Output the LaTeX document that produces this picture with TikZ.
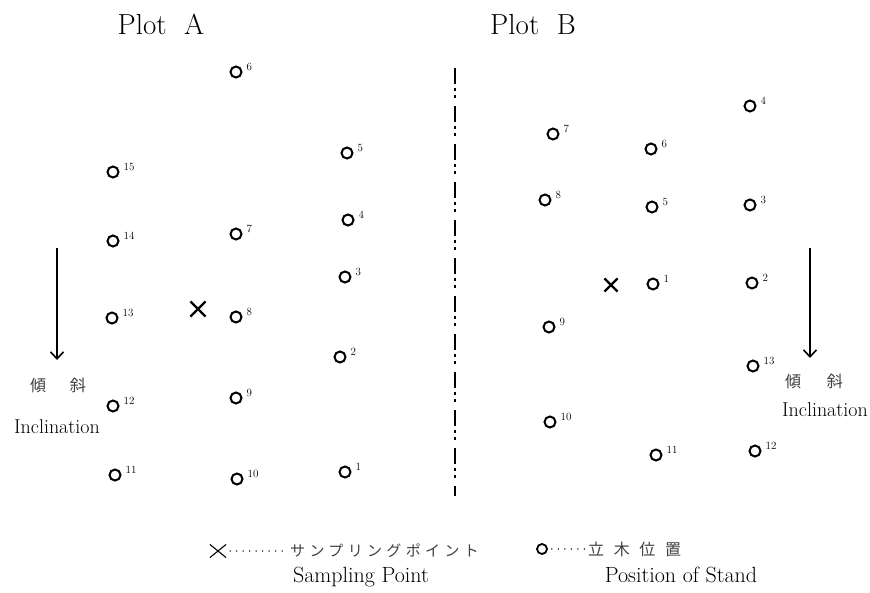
\documentclass[tikz,border=0pt]{standalone}
\usepackage{fontspec}
\usetikzlibrary{arrows.meta,shapes.misc}
\newfontfamily\jpfont{Noto Sans CJK JP}
\newfontfamily\jpwide[LetterSpace=29]{Noto Sans CJK JP}
\begin{document}
\begin{tikzpicture}[x=1pt,y=-1pt,
  stand/.style={circle,draw,line width=2pt,minimum size=11pt,inner sep=0pt},
  num/.style={font=\fontsize{11}{11}\selectfont,inner sep=0pt,anchor=west},
  sample/.style={cross out,draw,line width=2.2pt,minimum size=11pt,inner sep=0pt},
  title/.style={font=\fontsize{29}{29}\selectfont,inner sep=0pt,anchor=base},
  lbl/.style={font=\fontsize{22}{22}\selectfont,inner sep=0pt,anchor=base},
  incl/.style={font=\fontsize{20}{20}\selectfont,inner sep=0pt,anchor=base},
  jp/.style={font=\jpfont\fontsize{16}{16}\selectfont,inner sep=0pt,text=black!75},
  slope/.style={->,line width=2pt,>={Straight Barb[length=7pt,width=13pt,line width=1.6pt]}},
  divider/.style={line width=2.4pt,dash pattern=on 16pt off 4pt on 3pt off 4pt on 3pt off 8pt},
  leader/.style={line width=1.6pt,line cap=round,dash pattern=on 0pt off 6.5pt,shorten <=4pt,shorten >=2pt}
]
\useasboundingbox (0,0) rectangle (870,593);

% titles
\node[title] (ta) at (161,35) {Plot\ \ A};
\node[title] (tb) at (533,35) {Plot\ \ B};

% dividing line between the plots
\coordinate (dtop) at (455,68);
\coordinate (dbot) at (455,496);
\draw[divider] (dtop) -- (dbot);

% stand positions, Plot A
\foreach \n/\x/\y in {6/236/72, 5/347/153, 15/113/172, 4/348/220, 14/113/241,
                      7/236/234, 3/345/277, 13/112/318, 8/236/317, 2/340/357,
                      12/113/406, 9/236/398, 11/115/475, 10/237/479, 1/345/472}{
  \node[stand] (a\n) at (\x,\y) {};
  \node[num] (an\n) at ([xshift=4pt,yshift=5pt]a\n.east) {\n};
}
\node[sample,minimum size=13pt] (xa) at (198,309) {};

% stand positions, Plot B
\foreach \n/\x/\y in {4/750/106, 7/553/134, 6/651/149, 8/545/200, 5/652/207,
                      3/750/205, 1/653/284, 2/752/283, 9/549/327, 13/753/366,
                      10/550/422, 11/656/455, 12/755/451}{
  \node[stand] (b\n) at (\x,\y) {};
  \node[num] (bn\n) at ([xshift=4pt,yshift=5pt]b\n.east) {\n};
}
\node[sample] (xb) at (611,285) {};

% slope direction, Plot A
\coordinate (sa1) at (57,248);
\coordinate (sa2) at (57,360);
\draw[slope] (sa1) -- (sa2);
\node[jp] (ja) at (58,385) {傾\hspace{1.5em}斜};
\node[incl] (ia) at (57,433) {Inclination};

% slope direction, Plot B
\coordinate (sb1) at (810,248);
\coordinate (sb2) at (810,358);
\draw[slope] (sb1) -- (sb2);
\node[jp] (jb) at (814,381) {傾\hspace{1.6em}斜};
\node[incl] (ib) at (825,417) {Inclination};

% legend
\node[cross out,draw,line width=1.1pt,minimum width=15pt,minimum height=12pt,inner sep=0pt] (lx) at (218,551) {};
\node[jp,font=\jpwide\fontsize{15}{15}\selectfont,anchor=west] (lsj) at (290,551) {サンプリングポイント};
\draw[leader] (lx.east) -- (lsj.west);
\node[lbl] (lse) at (361,582) {Sampling Point};
\node[stand,line width=1.8pt,minimum size=10pt] (lo) at (542,549) {};
\node[jp,anchor=west] (lpj) at (588,549) {立\hspace{0.6em}木\hspace{0.6em}位\hspace{0.6em}置};
\draw[leader] (lo.east) -- (lpj.west);
\node[lbl] (lpe) at (681,582) {Position of Stand};
\end{tikzpicture}
\end{document}
